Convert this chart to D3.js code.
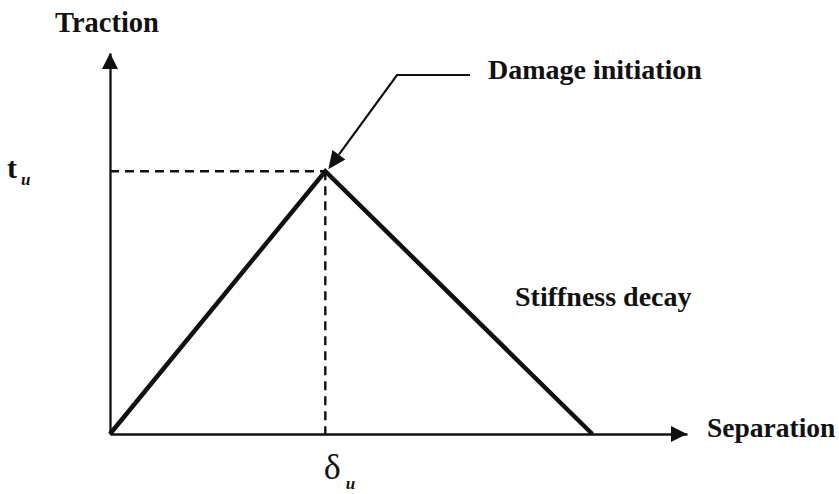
<!DOCTYPE html>
<html>
<head>
<meta charset="utf-8">
<script src="https://cdn.jsdelivr.net/npm/d3@7"></script>
<style>
  body { margin: 0; background: #fff; }
  text { font-family: "Liberation Serif", "Times New Roman", serif; fill: #111; }
</style>
</head>
<body>
<div id="chart"></div>
<script>
// bilinear traction-separation law (delta_u = 1, t_u = 1)
const separation = [0, 1, 2.24];
const traction = [0, 1, 0];
const peakSeparation = [1];   // δu tick
const peakTraction = [1];     // tu tick
const axisMax = { separation: 2.68, traction: 1.45 };
const axisLabels = ["Separation", "Traction"];
const notes = ["Damage initiation", "Stiffness decay"];

const width = 839, height = 494;
const ink = "#111";

const svg = d3.select("#chart")
    .append("svg")
    .attr("width", width)
    .attr("height", height);

const x = d3.scaleLinear().domain([0, axisMax.separation]).range([110, 687]);
const y = d3.scaleLinear().domain([0, axisMax.traction]).range([434, 53]);

// Trục X
const gx = svg.append("g")
    .attr("transform", `translate(0, ${y(0)})`)
    .call(d3.axisBottom(x).tickValues(peakSeparation).tickSize(0).tickSizeOuter(0).tickFormat(""));
gx.select(".domain").attr("stroke", ink).attr("stroke-width", 2.3);
gx.selectAll(".tick text").remove();
gx.selectAll(".tick").append("text")
    .attr("y", 45)
    .attr("x", -2)
    .attr("text-anchor", "start")
    .style("font-size", "36px")
    .call(t => {
        t.append("tspan").text("δ");
        t.append("tspan")
            .attr("dy", 10)
            .attr("dx", 5)
            .style("font-size", "17px")
            .style("font-style", "italic")
            .style("font-weight", "bold")
            .text("u");
    });

// Trục Y
const gy = svg.append("g")
    .attr("transform", `translate(${x(0)}, 0)`)
    .call(d3.axisLeft(y).tickValues(peakTraction).tickSize(0).tickSizeOuter(0).tickFormat(""));
gy.select(".domain").attr("stroke", ink).attr("stroke-width", 2.3);
gy.selectAll(".tick text").remove();
gy.selectAll(".tick").append("text")
    .attr("x", -103)
    .attr("y", 6)
    .attr("text-anchor", "start")
    .style("font-size", "30px")
    .style("font-weight", "bold")
    .call(t => {
        t.append("tspan").text("t");
        t.append("tspan")
            .attr("dy", 7)
            .attr("dx", 4)
            .style("font-size", "17px")
            .style("font-style", "italic")
            .text("u");
    });

// axis arrowheads
const head = 16, half = 8;
svg.append("path")
    .attr("d", `M${x(axisMax.separation)},${y(0)} l${-head},${-half} l0,${2 * half} z`)
    .attr("fill", ink);
svg.append("path")
    .attr("d", `M${x(0)},${y(axisMax.traction)} l${-half},${head} l${2 * half},0 z`)
    .attr("fill", ink);

// axis titles
svg.append("text")
    .attr("x", 707).attr("y", 437)
    .style("font-size", "27.5px").style("font-weight", "bold")
    .text(axisLabels[0]);
svg.append("text")
    .attr("x", 55).attr("y", 32)
    .style("font-size", "28.5px").style("font-weight", "bold")
    .text(axisLabels[1]);

// dashed guides to the peak
const px = x(peakSeparation[0]), py = y(peakTraction[0]);
svg.append("path")
    .attr("d", `M${x(0)},${py} H${px} M${px},${py} V${y(0)}`)
    .attr("fill", "none")
    .attr("stroke", ink)
    .attr("stroke-width", 2.4)
    .attr("stroke-dasharray", "9,6");

// Vẽ đường
const pts = separation.map((s, i) => [s, traction[i]]);
svg.append("path")
    .datum(pts)
    .attr("d", d3.line().x(d => x(d[0])).y(d => y(d[1])))
    .attr("fill", "none")
    .attr("stroke", ink)
    .attr("stroke-width", 4.5)
    .attr("stroke-linejoin", "miter");

// leader to peak
const tip = [px + 3, py - 2];
const elbow = [397, 75];
const ang = Math.atan2(tip[1] - elbow[1], tip[0] - elbow[0]);
const L = 18, W = 8;
const base = [tip[0] - L * Math.cos(ang), tip[1] - L * Math.sin(ang)];
svg.append("path")
    .attr("d", `M470,75 H${elbow[0]} L${base[0]},${base[1]}`)
    .attr("fill", "none")
    .attr("stroke", ink)
    .attr("stroke-width", 2.2);
svg.append("path")
    .attr("d", `M${tip[0]},${tip[1]}
        L${base[0] - W * Math.sin(ang)},${base[1] + W * Math.cos(ang)}
        L${base[0] + W * Math.sin(ang)},${base[1] - W * Math.cos(ang)} z`)
    .attr("fill", ink);

svg.append("text")
    .attr("x", 488).attr("y", 79)
    .style("font-size", "28px").style("font-weight", "bold")
    .text(notes[0]);
svg.append("text")
    .attr("x", 515).attr("y", 306)
    .style("font-size", "28px").style("font-weight", "bold")
    .text(notes[1]);
</script>
</body>
</html>
